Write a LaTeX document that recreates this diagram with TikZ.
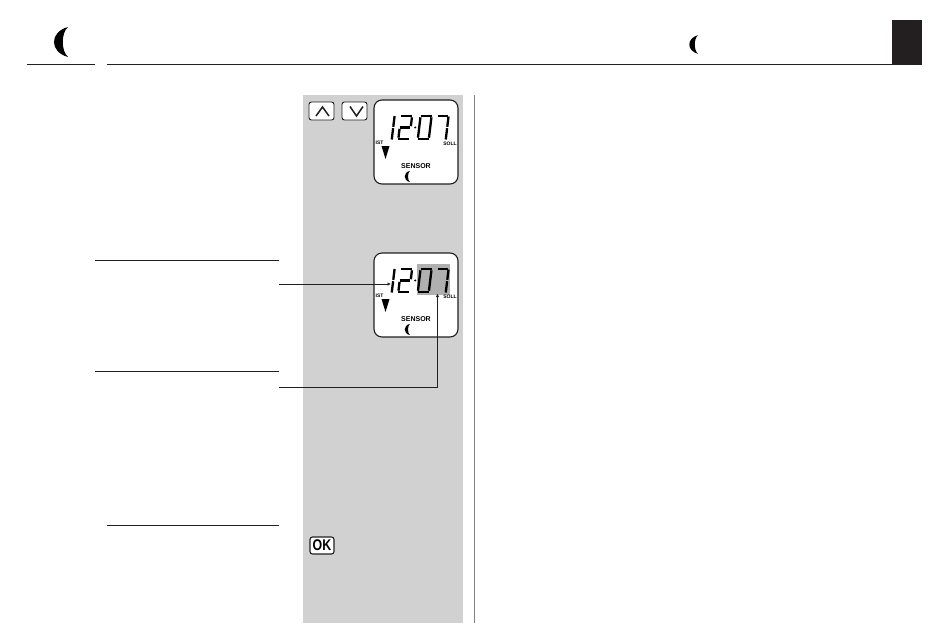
\documentclass[tikz,border=0pt]{standalone}
\usepackage{fontspec}
\setmainfont{Liberation Sans}
\usetikzlibrary{arrows.meta}
\definecolor{panelgray}{HTML}{D1D1D1}
\definecolor{markgray}{HTML}{B0B0B0}
\definecolor{inkblack}{HTML}{231F20}
\newcommand{\lcdfont}[1]{\fontsize{#1}{#1}\selectfont\bfseries}
\tikzset{
	rulebar/.style={draw=inkblack,line width=1pt},
	leader/.style={draw=inkblack,line width=1pt,-{Latex[length=3.5pt,width=3.5pt]}},
	keybox/.style={draw=inkblack,fill=white,rounded corners=2.5pt,line width=0.9pt,minimum width=25pt,minimum height=18pt,inner sep=0pt},
	keymark/.style={draw=inkblack,line width=1.5pt},
	lcdframe/.style={draw=inkblack,fill=white,rounded corners=8pt,line width=1.1pt,minimum width=84pt,minimum height=84pt,inner sep=0pt},
	lcdseg/.style={draw=black,line width=2.3pt},
	moon/.pic={\fill[black] (0,-15) .. controls (-18.7,-10) and (-18.7,10) .. (0,15) .. controls (-7,9) and (-7,-9) .. cycle;},
	lcdreadout/.pic={
		% digits 1 2 : 0 7
		\begin{scope}[xslant=0.12]
		\draw[lcdseg] (22.5,16) -- (22.5,26.8) (22.5,28.2) -- (22.5,39.5);
		\draw[lcdseg] (29,16) -- (40,16);
		\draw[lcdseg] (40,17.3) -- (40,26.2);
		\draw[lcdseg] (29,27.5) -- (39,27.5);
		\draw[lcdseg] (29,28.8) -- (29,37.7);
		\draw[lcdseg] (29,39) -- (40,39);
		\draw[lcdseg] (48.5,16) -- (59.5,16);
		\draw[lcdseg] (48.5,17.3) -- (48.5,37.7);
		\draw[lcdseg] (59.5,17.3) -- (59.5,37.7);
		\draw[lcdseg] (48.5,39) -- (59.5,39);
		\draw[lcdseg] (66,16) -- (76,16);
		\draw[lcdseg] (76.5,16.5) -- (76.5,26.8) (76.5,28.2) -- (76.5,39.5);
		\fill[black] (44.5,27.5) circle (1.1);
		\end{scope}
		\node[font=\lcdfont{5}] (ist) at (5.5,43) {IST};
		\node[font=\lcdfont{5}] (soll) at (76,43.5) {SOLL};
		\fill[black] (7.5,46) -- (15.5,46) -- (11.5,59) -- cycle;
		\node[font=\lcdfont{7}] (sensor) at (42,66) {SENSOR};
		\pic[scale=0.38] at (36,76.5) {moon};
	}
}
\begin{document}
\begin{tikzpicture}[x=1pt,y=-1pt]
	\useasboundingbox (0,0) rectangle (950,643);
	% page header
	\pic at (68,42) {moon};
	\pic[scale=0.62] at (698,44.5) {moon};
	\fill[inkblack] (892,20) rectangle (922,64.5);
	\draw[rulebar] (27,64) -- (95,64);
	\draw[rulebar] (107,64) -- (892,64);
	% grey column
	\fill[panelgray] (303,95) rectangle (463,623);
	\draw[gray,line width=0.8pt] (474,95) -- (474,623);
	% keys
	\node[keybox] (upkey) at (321.5,111) {};
	\node[keybox] (downkey) at (354.5,111) {};
	\draw[keymark] (316,116) -- (322.5,107) -- (329,116);
	\draw[keymark] (350,106.5) -- (356.5,116) -- (363,106.5);
	\node[keybox,line width=1.1pt,minimum width=24pt,minimum height=17pt,font=\lcdfont{15.5}] (okkey) at (322,545.5) {\scalebox{0.8}[1]{OK}};
	% displays
	\node[lcdframe] (lcdtop) at (416,142) {};
	\pic at (374,100) {lcdreadout};
	\node[lcdframe] (lcdbottom) at (416,295) {};
	\fill[markgray] (417,264) rectangle (450,295);
	\pic at (374,253) {lcdreadout};
	% leader lines
	\draw[rulebar] (95,260) -- (279,260);
	\draw[rulebar] (95,371) -- (279,371);
	\draw[rulebar] (107,525) -- (279,525);
	\coordinate (hourstart) at (279,284);
	\coordinate (hourtip) at (391,284);
	\coordinate (minstart) at (279,387);
	\coordinate (minbend) at (437.5,387);
	\coordinate (mintip) at (437.5,293.5);
	\draw[leader] (hourstart) -- (hourtip);
	\draw[leader] (minstart) -- (minbend) -- (mintip);
\end{tikzpicture}
\end{document}
